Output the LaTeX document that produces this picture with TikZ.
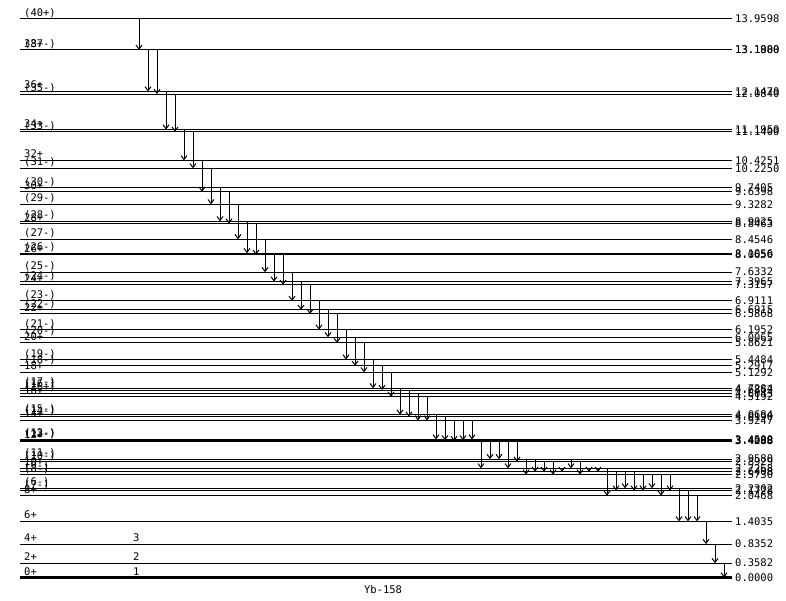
\documentclass[tikz,border=0pt]{standalone}
\usepackage{fontspec}
\setmonofont{DejaVu Sans Mono}
\usetikzlibrary{arrows.meta}

\newcommand{\lev}[4]{%
  \coordinate (L#1) at (0,#2);
  \draw[level] (20,#2) -- (732,#2) coordinate (R#1);
  \node[spin] (S#1) at (L#1) {#3};
  \node[enr] (E#1) at (R#1) {#4};}
\newcommand{\gam}[3]{\draw[gam] ([xshift=#1pt]L#2) -- ([xshift=#1pt]L#3);}

\begin{document}
\begin{tikzpicture}[x=1pt, y=40.01pt, font=\ttfamily\fontsize{10.5}{12}\selectfont,
  level/.style={line width=1pt},
  spin/.style={anchor=base west, xshift=24pt, yshift=2.5pt, inner sep=0pt},
  enr/.style={anchor=west, xshift=3pt, inner sep=0pt},
  gam/.style={line width=1pt, -{Straight Barb[length=4pt,width=6pt]}}]
  \useasboundingbox (0,-0.5624) rectangle (786,14.434);

  \lev{p40}{13.9598}{(40+)}{13.9598}
  \lev{p38}{13.1880}{38+}{13.1880}
  \lev{m37}{13.1900}{(37-)}{13.1900}
  \lev{p36}{12.1470}{36+}{12.1470}
  \lev{m35}{12.0840}{(35-)}{12.0840}
  \lev{p34}{11.1950}{34+}{11.1950}
  \lev{m33}{11.1400}{(33-)}{11.1400}
  \lev{p32}{10.4251}{32+}{10.4251}
  \lev{m31}{10.2250}{(31-)}{10.2250}
  \lev{n30}{9.7405}{(30-)}{9.7405}
  \lev{p30}{9.6398}{30+}{9.6398}
  \lev{m29}{9.3282}{(29-)}{9.3282}
  \lev{n28}{8.9025}{(28-)}{8.9025}
  \lev{p28}{8.8463}{28+}{8.8463}
  \lev{m27}{8.4546}{(27-)}{8.4546}
  \lev{n26}{8.1056}{(26-)}{8.1056}
  \lev{p26}{8.0650}{26+}{8.0650}
  \lev{m25}{7.6332}{(25-)}{7.6332}
  \lev{n24}{7.3965}{(24-)}{7.3965}
  \lev{p24}{7.3157}{24+}{7.3157}
  \lev{m23}{6.9111}{(23-)}{6.9111}
  \lev{n22}{6.6915}{(22-)}{6.6915}
  \lev{p22}{6.5868}{22+}{6.5868}
  \lev{m21}{6.1952}{(21-)}{6.1952}
  \lev{n20}{6.0065}{(20-)}{6.0065}
  \lev{p20}{5.8621}{20+}{5.8621}
  \lev{m19}{5.4484}{(19-)}{5.4484}
  \lev{n18}{5.2917}{(18-)}{5.2917}
  \lev{p18}{5.1292}{18+}{5.1292}
  \lev{m17}{4.7284}{(17-)}{4.7284}
  \lev{n16}{4.6862}{(16-)}{4.6862}
  \lev{x16}{4.6043}{(16+)}{4.6043}
  \lev{p16}{4.5192}{16+}{4.5192}
  \lev{m15}{4.0684}{(15-)}{4.0684}
  \lev{n14}{4.0190}{(14-)}{4.0190}
  \lev{p14}{3.9247}{14+}{3.9247}
  \lev{m13}{3.4500}{(13-)}{3.4500}
  \lev{n12}{3.4288}{(12-)}{3.4288}
  \lev{p12}{3.4088}{12+}{3.4088}
  \lev{m11}{2.9580}{(11-)}{2.9580}
  \lev{n10}{2.8929}{(10-)}{2.8929}
  \lev{p10}{2.7268}{10+}{2.7268}
  \lev{m9}{2.6408}{(9-)}{2.6408}
  \lev{n8}{2.5730}{(8-)}{2.5730}
  \lev{n6}{2.2302}{(6-)}{2.2302}
  \lev{m7}{2.1728}{(7-)}{2.1728}
  \lev{p8}{2.0468}{8+}{2.0468}
  \lev{p6}{1.4035}{6+}{1.4035}
  \lev{p4}{0.8352}{4+}{0.8352}
  \lev{p2}{0.3582}{2+}{0.3582}
  \lev{p0}{0.0000}{0+}{0.0000}
  \draw[line width=3pt] (20,0) -- (732,0);

  \node[spin, xshift=109pt] (c3) at (Lp4) {3};
  \node[spin, xshift=109pt] (c2) at (Lp2) {2};
  \node[spin, xshift=109pt] (c1) at (Lp0) {1};
  \node (title) at (383,-0.31) {Yb-158};

  \gam{139}{p40}{p38}
  \gam{148}{p38}{p36}
  \gam{157}{m37}{m35}
  \gam{166}{p36}{p34}
  \gam{175}{m35}{m33}
  \gam{184}{p34}{p32}
  \gam{193}{m33}{m31}
  \gam{202}{p32}{p30}
  \gam{211}{m31}{m29}
  \gam{220}{n30}{n28}
  \gam{229}{p30}{p28}
  \gam{238}{m29}{m27}
  \gam{247}{n28}{n26}
  \gam{256}{p28}{p26}
  \gam{265}{m27}{m25}
  \gam{274}{n26}{n24}
  \gam{283}{p26}{p24}
  \gam{292}{m25}{m23}
  \gam{301}{n24}{n22}
  \gam{310}{p24}{p22}
  \gam{319}{m23}{m21}
  \gam{328}{n22}{n20}
  \gam{337}{p22}{p20}
  \gam{346}{m21}{m19}
  \gam{355}{n20}{n18}
  \gam{364}{p20}{p18}
  \gam{373}{m19}{m17}
  \gam{382}{n18}{n16}
  \gam{391}{p18}{p16}
  \gam{400}{m17}{m15}
  \gam{409}{n16}{n14}
  \gam{418}{x16}{p14}
  \gam{427}{p16}{p14}
  \gam{436}{m15}{m13}
  \gam{445}{n14}{n12}
  \gam{454}{p14}{p12}
  \gam{463}{p14}{n12}
  \gam{472}{p14}{m13}
  \gam{481}{p12}{p10}
  \gam{490}{m13}{m11}
  \gam{499}{n12}{m11}
  \gam{508}{n12}{p10}
  \gam{517}{n12}{n10}
  \gam{526}{m11}{n8}
  \gam{535}{m11}{m9}
  \gam{544}{n10}{m9}
  \gam{553}{n10}{n8}
  \gam{562}{p10}{m9}
  \gam{571}{m11}{p10}
  \gam{580}{n10}{n8}
  \gam{589}{p10}{m9}
  \gam{598}{p10}{m9}
  \gam{607}{p10}{p8}
  \gam{616}{m9}{m7}
  \gam{625}{m9}{n6}
  \gam{634}{m9}{m7}
  \gam{643}{n8}{m7}
  \gam{652}{n8}{n6}
  \gam{661}{n8}{p8}
  \gam{670}{n8}{m7}
  \gam{679}{n6}{p6}
  \gam{688}{m7}{p6}
  \gam{697}{p8}{p6}
  \gam{706}{p6}{p4}
  \gam{715}{p4}{p2}
  \gam{724}{p2}{p0}
\end{tikzpicture}
\end{document}
